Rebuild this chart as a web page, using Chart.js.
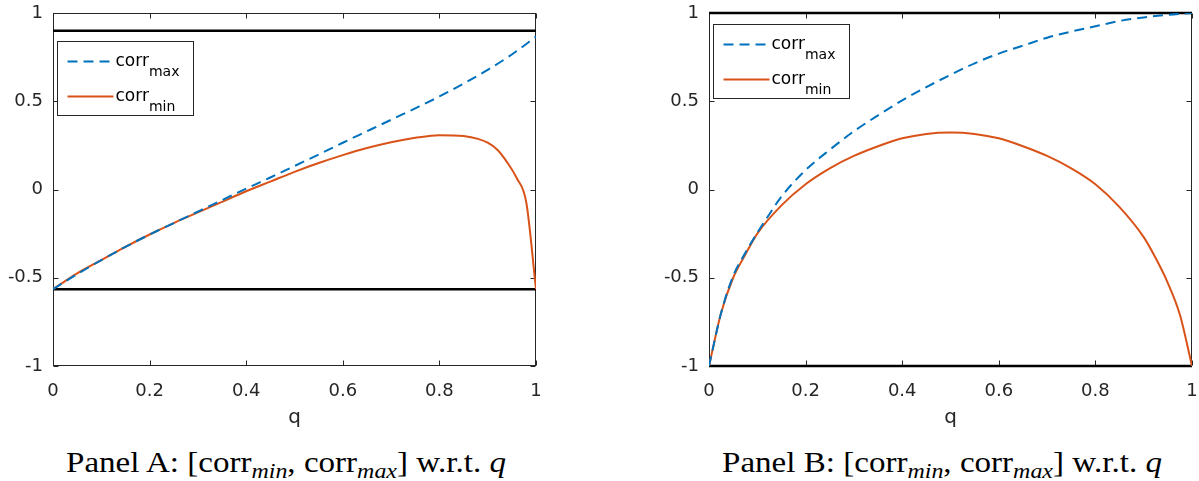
<!DOCTYPE html>
<html>
<head>
<meta charset="utf-8">
<script src="https://cdn.jsdelivr.net/npm/chart.js@4/dist/chart.umd.min.js"></script>
<style>
  body { margin: 0; background: #fff; width: 1199px; height: 481px; position: relative; overflow: hidden; }
  canvas { position: absolute; top: 0; }
  .cap { position: absolute; top: 448px; font-family: "Liberation Serif", serif; font-size: 29px; line-height: 29px; white-space: nowrap; color: #000; transform: scaleX(1.14); transform-origin: left top; }
  .cap sub { font-size: 21px; font-style: italic; vertical-align: -6px; line-height: 0; }
  .cap i { font-style: italic; }
</style>
</head>
<body>
<canvas id="chartA" width="600" height="430" style="left:0"></canvas>
<canvas id="chartB" width="599" height="430" style="left:600px"></canvas>
<div class="cap" id="capA" style="left:66px">Panel A: [corr<sub>min</sub>, corr<sub>max</sub>] w.r.t. <i>q</i></div>
<div class="cap" id="capB" style="left:722px">Panel B: [corr<sub>min</sub>, corr<sub>max</sub>] w.r.t. <i>q</i></div>
<script>
// ===== данные панели A =====
const qMaxA = [0, 0.05, 0.1, 0.15, 0.2, 0.25, 0.3, 0.35, 0.4, 0.45, 0.5, 0.55, 0.6, 0.65, 0.7, 0.75, 0.8, 0.85, 0.9, 0.95, 1];
const corrMaxA = [-0.565, -0.48, -0.40, -0.325, -0.255, -0.19, -0.125, -0.06, 0.005, 0.068, 0.133, 0.198, 0.265, 0.33, 0.395, 0.46, 0.527, 0.60, 0.678, 0.765, 0.866];
const qMinA = [0, 0.05, 0.1, 0.15, 0.2, 0.25, 0.3, 0.35, 0.4, 0.45, 0.5, 0.55, 0.6, 0.65, 0.7, 0.75, 0.8, 0.85, 0.88, 0.9, 0.92, 0.94, 0.96, 0.98, 1];
const corrMinA = [-0.565, -0.475, -0.40, -0.325, -0.255, -0.19, -0.13, -0.07, -0.01, 0.045, 0.10, 0.15, 0.195, 0.235, 0.268, 0.293, 0.308, 0.303, 0.287, 0.265, 0.225, 0.155, 0.065, -0.075, -0.565];
const boundsA = [-0.565, 0.9];

// ===== данные панели B =====
const qMaxB = [0, 0.025, 0.05, 0.075, 0.1, 0.125, 0.15, 0.2, 0.25, 0.3, 0.35, 0.4, 0.45, 0.5, 0.55, 0.6, 0.65, 0.7, 0.75, 0.8, 0.85, 0.9, 0.95, 1];
const corrMaxB = [-1, -0.70, -0.49, -0.36, -0.245, -0.14, -0.04, 0.11, 0.225, 0.33, 0.42, 0.505, 0.58, 0.65, 0.715, 0.77, 0.815, 0.86, 0.895, 0.925, 0.955, 0.975, 0.99, 1];
const qMinB = [0, 0.025, 0.05, 0.075, 0.1, 0.15, 0.2, 0.25, 0.3, 0.35, 0.4, 0.45, 0.5, 0.55, 0.6, 0.65, 0.7, 0.75, 0.8, 0.85, 0.9, 0.925, 0.95, 0.975, 1];
const corrMinB = [-1, -0.70, -0.50, -0.37, -0.25, -0.09, 0.03, 0.12, 0.19, 0.245, 0.29, 0.315, 0.323, 0.315, 0.29, 0.245, 0.19, 0.12, 0.03, -0.10, -0.27, -0.39, -0.53, -0.71, -1];
const boundsB = [-1, 1];

const xTicks = [0, 0.2, 0.4, 0.6, 0.8, 1];
const yTicks = [-1, -0.5, 0, 0.5, 1];

const blue = '#0072BD';
const orange = '#D95319';
const axisColor = '#262626';

const pts = (xs, ys) => xs.map((x, i) => ({ x: x, y: ys[i] }));

// рамка, внутренние засечки и легенда как в MATLAB
const boxPlugin = {
    id: 'matlabBox',
    beforeDatasetsDraw(chart) {
        const ctx = chart.ctx;
        const a = chart.chartArea;
        const xs = chart.scales.x, ys = chart.scales.y;
        const L = Math.round(a.left) + 0.5, R = Math.round(a.right) - 0.5;
        const T = Math.round(a.top) + 0.5, B = Math.round(a.bottom) - 0.5;
        ctx.save();
        ctx.strokeStyle = axisColor;
        ctx.lineWidth = 1;
        ctx.strokeRect(L, T, R - L, B - T);
        const tl = 5;
        ctx.beginPath();
        xTicks.forEach(v => {
            const px = Math.round(xs.getPixelForValue(v)) + 0.5;
            ctx.moveTo(px, B); ctx.lineTo(px, B - tl);
            ctx.moveTo(px, T); ctx.lineTo(px, T + tl);
        });
        yTicks.forEach(v => {
            const py = Math.round(ys.getPixelForValue(v)) + 0.5;
            ctx.moveTo(L, py); ctx.lineTo(L + tl, py);
            ctx.moveTo(R, py); ctx.lineTo(R - tl, py);
        });
        ctx.stroke();
        ctx.restore();
    },
    afterDraw(chart, args, opts) {
        // ===== легенда =====
        const ctx = chart.ctx;
        const a = chart.chartArea;
        const lx = Math.round(a.left + opts.dx) + 0.5;
        const ly = Math.round(a.top + opts.dy) + 0.5;
        const lw = 136, lh = 74;
        ctx.save();
        ctx.lineWidth = 1;
        ctx.fillStyle = '#fff';
        ctx.fillRect(lx, ly, lw, lh);
        ctx.strokeStyle = axisColor;
        ctx.strokeRect(lx, ly, lw, lh);
        const items = chart.data.datasets.filter(d => d.legendSub);
        items.forEach((d, i) => {
            const yy = ly + 20 + i * 35;
            ctx.strokeStyle = d.borderColor;
            ctx.lineWidth = 2;
            ctx.setLineDash(d.borderDash || []);
            ctx.beginPath();
            ctx.moveTo(lx + 10, yy); ctx.lineTo(lx + 56, yy);
            ctx.stroke();
            ctx.setLineDash([]);
            ctx.fillStyle = '#000';
            ctx.textBaseline = 'alphabetic';
            ctx.font = '17px "DejaVu Sans"';
            ctx.fillText('corr', lx + 58, yy + 4);
            const w = ctx.measureText('corr').width;
            ctx.font = '14px "DejaVu Sans"';
            ctx.fillText(d.legendSub, lx + 58 + w, yy + 14);
        });
        ctx.restore();
    }
};

function makeChart(id, maxData, minData, bounds, yAxisWidth, padRight, legendDy) {
    return new Chart(document.getElementById(id), {
        type: 'line',
        data: {
            datasets: [
                { data: maxData, borderColor: blue, borderWidth: 2, borderDash: [10, 6], legendSub: 'max' },
                { data: minData, borderColor: orange, borderWidth: 2, legendSub: 'min' },
                { data: pts([0, 1], [bounds[0], bounds[0]]), borderColor: '#000', borderWidth: 2.5, clip: false },
                { data: pts([0, 1], [bounds[1], bounds[1]]), borderColor: '#000', borderWidth: 2.5, clip: false }
            ]
        },
        options: {
            responsive: false,
            animation: false,
            elements: { point: { radius: 0 }, line: { cubicInterpolationMode: 'monotone' } },
            layout: { padding: { top: 13, right: padRight, left: 0, bottom: 0 } },
            plugins: {
                legend: { display: false },
                tooltip: { enabled: false },
                matlabBox: { dx: 4, dy: legendDy }
            },
            scales: {
                x: {
                    type: 'linear', min: 0, max: 1,
                    grid: { display: false, drawTicks: false },
                    border: { display: false },
                    afterBuildTicks: s => { s.ticks = xTicks.map(v => ({ value: v })); },
                    afterFit: s => { s.height = 64; s.paddingLeft = 0; s.paddingRight = 0; },
                    ticks: { padding: 15, color: axisColor, font: { family: 'DejaVu Sans', size: 18 }, maxRotation: 0, callback: v => String(v) },
                    title: { display: true, text: 'q', color: axisColor, font: { family: 'DejaVu Sans', size: 20 }, padding: { top: 0, bottom: 0 } }
                },
                y: {
                    min: -1, max: 1,
                    grid: { display: false, drawTicks: false },
                    border: { display: false },
                    afterBuildTicks: s => { s.ticks = yTicks.map(v => ({ value: v })); },
                    afterFit: s => { s.width = yAxisWidth; s.paddingTop = 0; s.paddingBottom = 0; },
                    ticks: { padding: 10, color: axisColor, font: { family: 'DejaVu Sans', size: 18 }, callback: v => String(v) }
                }
            }
        },
        plugins: [boxPlugin]
    });
}

makeChart('chartA', pts(qMaxA, corrMaxA), pts(qMinA, corrMinA), boundsA, 53, 64, 28);
makeChart('chartB', pts(qMaxB, corrMaxB), pts(qMinB, corrMinB), boundsB, 109, 7, 11);
</script>
</body>
</html>
